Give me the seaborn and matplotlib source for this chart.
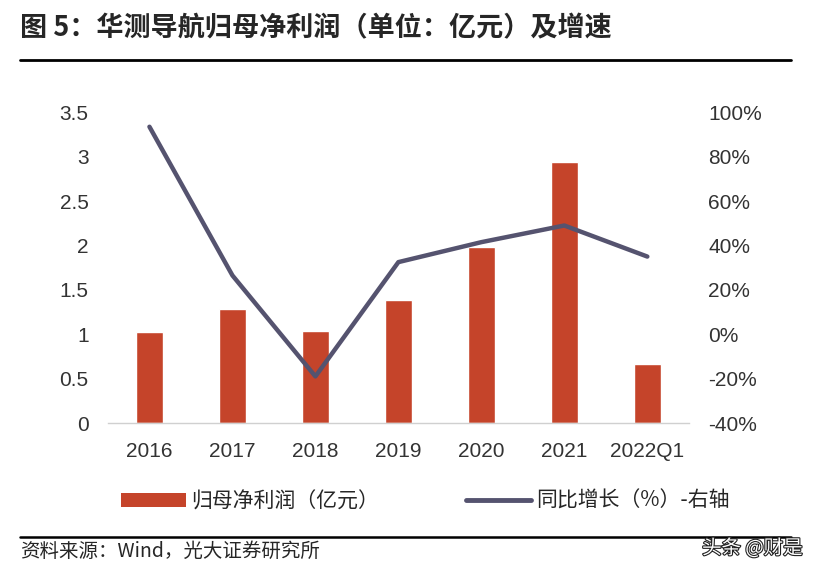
import seaborn as sns
import matplotlib.pyplot as plt
import matplotlib.patheffects as pe
import pandas as pd
from matplotlib.patches import Patch
from matplotlib.lines import Line2D

# data
years = ['2016', '2017', '2018', '2019', '2020', '2021', '2022Q1']
profit = [1.02, 1.28, 1.04, 1.39, 1.98, 2.94, 0.67]      # 亿元
growth = [93.5, 26.5, -19.0, 32.5, 41.5, 49.0, 35.0]      # %
left_ticks = [0, 0.5, 1, 1.5, 2, 2.5, 3, 3.5]
left_labels = ['0', '0.5', '1', '1.5', '2', '2.5', '3', '3.5']
right_ticks = [-40, -20, 0, 20, 40, 60, 80, 100]

df = pd.DataFrame({'year': years, 'profit': profit, 'growth': growth})

sns.set_style('white')
plt.rcParams['font.family'] = ['Liberation Sans', 'Noto Sans CJK SC', 'DejaVu Sans']

bar_color = '#C5442A'
line_color = '#55536F'
tick_color = '#333333'
cjk = ['Noto Sans CJK SC', 'DejaVu Sans']

fig = plt.figure(figsize=(8.21, 5.76), dpi=100)
ax = fig.add_axes([0.1315, 0.2656, 0.7075, 0.5394])

sns.barplot(data=df, x='year', y='profit', color=bar_color, width=0.33,
            saturation=1, ax=ax)
ax.set_ylim(0, 3.5)
ax.set_xlim(-0.5, len(years) - 0.5)
ax.set_yticks(left_ticks)
ax.set_yticklabels(left_labels)
ax.set_xlabel('')
ax.set_ylabel('')

ax2 = ax.twinx()
sns.lineplot(data=df, x='year', y='growth', color=line_color, linewidth=3.2,
             ax=ax2, sort=False)
ax2.set_ylim(-40, 100)
ax2.set_yticks(right_ticks)
ax2.set_yticklabels([f'{t}%' for t in right_ticks])
ax2.set_ylabel('')
ax2.set_xlim(-0.5, len(years) - 0.5)

for a in (ax, ax2):
    for s in ['top', 'left', 'right', 'bottom']:
        a.spines[s].set_visible(False)

ax.spines['bottom'].set_visible(True)
ax.spines['bottom'].set_color('#D0D0D0')
ax.spines['bottom'].set_linewidth(1)

# separator ticks between categories
ax.set_xticks([i - 0.5 for i in range(len(years) + 1)], minor=True)
ax.tick_params(axis='x', which='minor', length=5, color='#D0D0D0', width=1)
ax.tick_params(axis='x', which='major', length=0, pad=14, labelsize=15,
               labelcolor=tick_color)
ax.tick_params(axis='y', length=0, pad=14, labelsize=15, labelcolor=tick_color)
ax2.tick_params(axis='y', length=0, pad=14, labelsize=15, labelcolor=tick_color)

# legend
handles = [Patch(facecolor=bar_color, edgecolor='none'),
           Line2D([0], [0], color=line_color, linewidth=3.5)]
labels = ['归母净利润（亿元）', '同比增长（%）-右轴']
fig.legend(handles, labels, loc='center', bbox_to_anchor=(0.518, 0.13), ncol=2,
           frameon=False, handlelength=3.1, handleheight=0.7, columnspacing=4.2,
           handletextpad=0.25, prop={'family': cjk, 'size': 15})

# title and rules
fig.text(0.024, 0.951, '图 5：华测导航归母净利润（单位：亿元）及增速',
         fontsize=19.5, fontweight='bold', family=cjk, va='center', ha='left')
fig.add_artist(Line2D([0.024, 0.963], [0.895, 0.895], color='black', linewidth=2))
fig.add_artist(Line2D([0.024, 0.963], [0.068, 0.068], color='black', linewidth=1.8))

fig.text(0.024, 0.042, '资料来源：Wind，光大证券研究所', fontsize=14, family=cjk,
         va='center', ha='left')
fig.text(0.978, 0.048, '头条 @财是', fontsize=14, family=cjk, color='white',
         va='center', ha='right',
         path_effects=[pe.withStroke(linewidth=1.6, foreground='#222222')])

fig.savefig('out.png', dpi=100)
